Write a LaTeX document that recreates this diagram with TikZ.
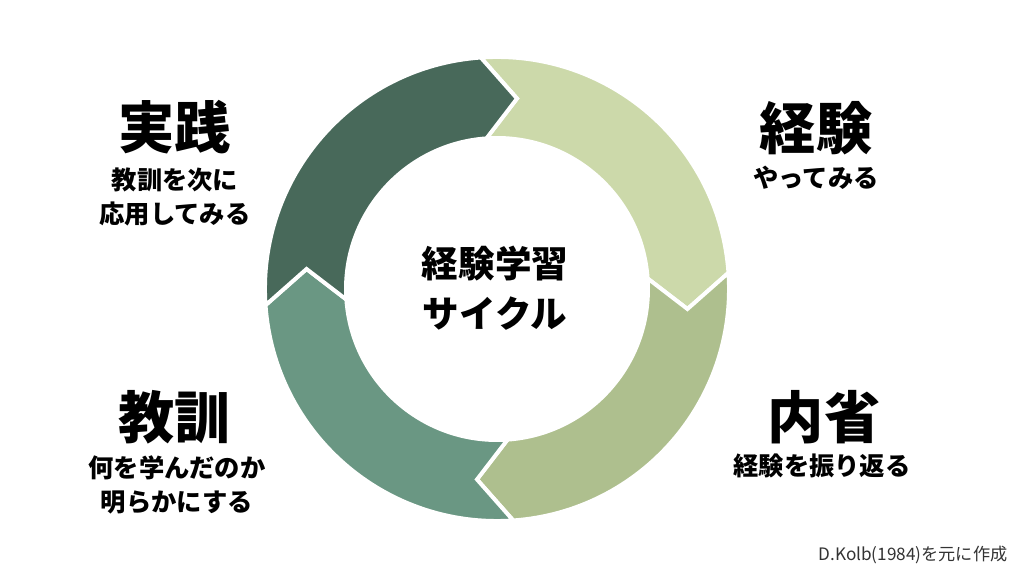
\documentclass[tikz,border=0pt]{standalone}
\usepackage{fontspec}
\setmainfont{Noto Sans CJK JP}
\newfontfamily\heavyfont{Noto Sans CJK JP Black}
\definecolor{segdark}{HTML}{48695A}
\definecolor{seglight}{HTML}{CCD9AA}
\definecolor{segolive}{HTML}{AEBF8E}
\definecolor{segsage}{HTML}{6A9783}
\definecolor{credgray}{HTML}{333333}
\tikzset{
	seg/.style={draw=white, line width=2.8pt, line join=miter},
	stagetitle/.style={font=\heavyfont\fontsize{40}{40}\selectfont, inner sep=0pt},
	stagesub/.style={font=\heavyfont\fontsize{18}{24}\selectfont, align=center, inner sep=0pt},
}
\begin{document}
\begin{tikzpicture}[x=0.025cm, y=0.025cm]
	\fill[white] (-497,-287) rectangle (527,289);
	\useasboundingbox (-497,-287) rectangle (527,289);
	% ring of four arrows
	\foreach \a/\c in {94/seglight, 4/segolive, -86/segsage, -176/segdark}{
		\pgfmathsetmacro{\b}{\a-90}
		\filldraw[seg, fill=\c] (\a:232) arc[start angle=\a, end angle=\b, radius=232]
			-- (\b-10:191.5) -- (\b:151) arc[start angle=\b, end angle=\a, radius=151]
			-- (\a-10:191.5) -- cycle;
	}
	\node[font=\heavyfont\fontsize{26}{35.5}\selectfont, align=center, inner sep=0pt] (cycle) at (-2,1) {経験学習\\サイクル};
	\node[stagetitle] (jissen) at (-322,162) {実践};
	\node[stagesub] (jissensub) at (-322,92) {教訓を次に\\応用してみる};
	\node[stagetitle] (keiken) at (319,161) {経験};
	\node[stagesub] (keikensub) at (319,111) {やってみる};
	\node[stagetitle] (kyokun) at (-322,-128) {教訓};
	\node[stagesub] (kyokunsub) at (-320,-196) {何を学んだのか\\明らかにする};
	\node[stagetitle] (naisei) at (327,-128) {内省};
	\node[stagesub] (naiseisub) at (325,-177) {経験を振り返る};
	\node[font=\fontsize{12.2}{12.2}\selectfont, text=credgray, inner sep=0pt] (credit) at (416,-266) {D.Kolb(1984)を元に作成};
\end{tikzpicture}
\end{document}
